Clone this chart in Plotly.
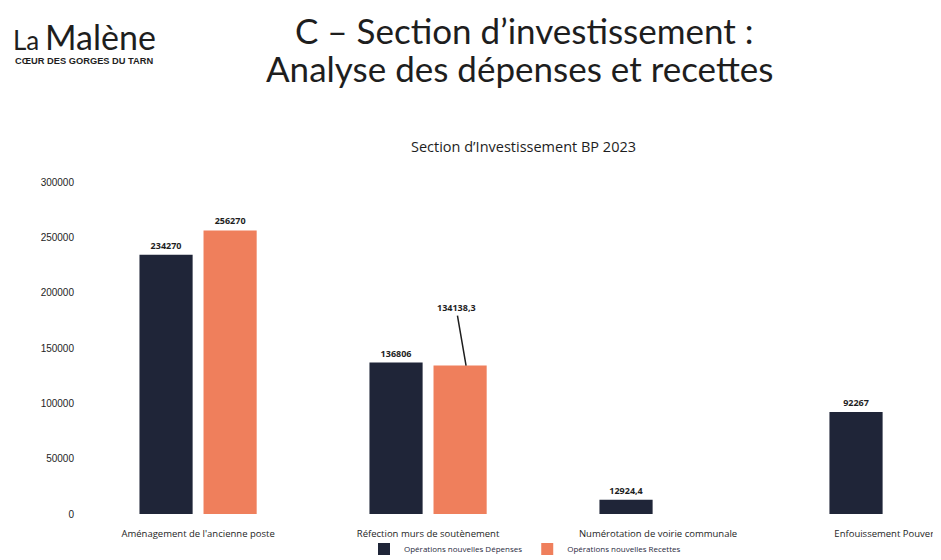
import plotly.graph_objects as go

# data
categories = [
    "Aménagement de l'ancienne poste",
    "Réfection murs de soutènement",
    "Numérotation de voirie communale",
    "Enfouissement Pouverel",
]
depenses = [234270, 136806, 12924.4, 92267]
recettes = [256270, 134138.3, None, None]
y_ticks = [0, 50000, 100000, 150000, 200000, 250000, 300000]

DARK = "#1f2538"
ORANGE = "#ef7f5c"
TXT = "#1e1e1e"


def fr(v):
    if v is None:
        return ""
    s = ("%.1f" % v).rstrip("0").rstrip(".")
    return s.replace(".", ",")


# the page body has an 8px margin, so the figure starts at (8, 8)
OFF = 8
W, H = 941, 560
L, R, T, B = 84 - OFF, 0, 182 - OFF, H - (514 - OFF)
pw, ph = W - L - R, H - T - B


def px(x):
    return (x - OFF - L) / pw


def py(y):
    return (H - B - (y - OFF)) / ph


def note(x, y, text, size, family="Lato", xanchor="center", color="#1e1e1e"):
    fig.add_annotation(
        x=px(x), y=py(y), xref="paper", yref="paper", showarrow=False,
        xanchor=xanchor, yanchor="middle", text=text,
        font=dict(size=size, color=color, family=family),
    )


fig = go.Figure()
fig.add_trace(go.Bar(
    x=categories, y=depenses, name="Opérations nouvelles Dépenses",
    marker=dict(color=DARK, line=dict(width=0)),
    text=[fr(v) for v in depenses], texttemplate="<b>%{text}</b>",
    textposition="outside",
    textfont=dict(size=9, color=TXT, family="Open Sans"),
    cliponaxis=False,
))
fig.add_trace(go.Bar(
    x=categories, y=recettes, name="Opérations nouvelles Recettes",
    marker=dict(color=ORANGE, line=dict(width=0)),
    # the second label is drawn with a leader line below
    text=[fr(recettes[0]), "", "", ""], texttemplate="<b>%{text}</b>",
    textposition="outside",
    textfont=dict(size=9, color=TXT, family="Open Sans"),
    cliponaxis=False,
))

# leader-line label on the orange bar of the second group
fig.add_annotation(
    x=categories[1], y=recettes[1], xref="x", yref="y", xshift=38,
    text="<b>" + fr(recettes[1]) + "</b>", showarrow=True, arrowhead=0,
    arrowwidth=1.5, arrowcolor=TXT, ax=-10, ay=-58,
    font=dict(size=9, color=TXT, family="Open Sans"),
)

# slide header
note(524, 30, "C – Section d’investissement :", 35)
note(519, 68, "Analyse des dépenses et recettes", 35)

# logo
note(11, 40, "La", 26, xanchor="left")
note(43, 36, "Malène", 34, xanchor="left")
note(13, 61, "<b>CŒUR DES GORGES DU TARN</b>", 9.3, family="Liberation Sans", xanchor="left")

# chart title
note(523, 146, "Section d’Investissement BP 2023", 14.5, family="Open Sans")

fig.update_layout(
    width=W, height=H,
    margin=dict(l=L, r=R, t=T, b=B, autoexpand=False),
    paper_bgcolor="white", plot_bgcolor="white",
    barmode="group", bargap=0.443, bargroupgap=0.17,
    showlegend=True,
    legend=dict(
        orientation="h", x=px(364), xanchor="left", y=py(549), yanchor="middle",
        font=dict(size=8, color="#2a2a40", family="Open Sans"),
        itemwidth=30, tracegroupgap=0, bgcolor="rgba(0,0,0,0)",
    ),
    font=dict(family="Open Sans", color=TXT),
)
fig.update_xaxes(
    range=[-0.496, 3.265], showgrid=False, showline=False, zeroline=False,
    tickfont=dict(size=9.5, color=TXT), ticks="", ticklabelstandoff=12,
)
fig.update_yaxes(
    range=[0, 300000], tickvals=y_ticks, ticktext=[str(v) for v in y_ticks],
    showgrid=False, showline=False, zeroline=False, ticks="",
    tickfont=dict(size=10, color=TXT, family="Liberation Sans"),
    ticklabelstandoff=9,
)

fig.write_html("out.html")
